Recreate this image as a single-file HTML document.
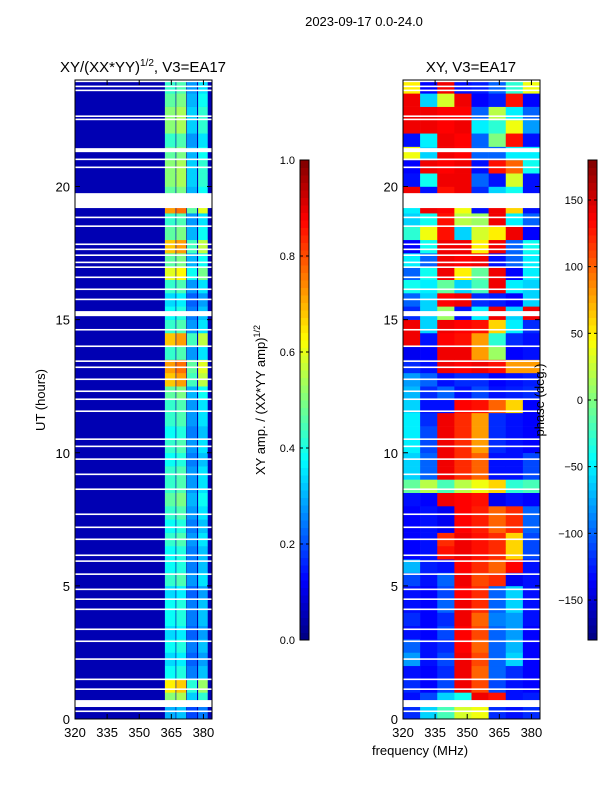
<!DOCTYPE html>
<html><head><meta charset="utf-8"><style>
body{margin:0;background:#fff;}
svg text{font-family:"Liberation Sans",sans-serif;fill:#000;}
</style></head><body>
<svg id="fig" width="600" height="800" xmlns="http://www.w3.org/2000/svg">
<text x="364" y="26" font-size="13" text-anchor="middle">2023-09-17 0.0-24.0</text>
<text x="143" y="72" font-size="15" text-anchor="middle">XY/(XX*YY)<tspan font-size="10" dy="-6">1/2</tspan><tspan dy="6">, V3=EA17</tspan></text>
<text x="471" y="72" font-size="15" text-anchor="middle">XY, V3=EA17</text>
<text transform="translate(45,400) rotate(-90)" font-size="13" text-anchor="middle">UT (hours)</text>
<text x="420" y="755" font-size="13" text-anchor="middle">frequency (MHz)</text>
<text transform="translate(265,400) rotate(-90)" font-size="13" text-anchor="middle">XY amp. / (XX*YY amp)<tspan font-size="9" dy="-5">1/2</tspan></text>
<g id="left"></g>
<g id="right"></g>
<g id="cb1"></g>
<g id="cb2"></g>
<text transform="translate(544,400) rotate(-90)" font-size="13" text-anchor="middle">phase (deg.)</text>
</svg>
<script>
const yTicks=[0,5,10,15,20];
const xTicks=[320,335,350,365,380];
const ampTicks=[0.0,0.2,0.4,0.6,0.8,1.0];
const phaseTicks=[-150,-100,-50,0,50,100,150];
const blankStart=[23.92,23.73,23.58,22.61,22.49,21.29,20.99,20.69,19.19,18.81,18.48,17.80,17.61,17.39,17.12,16.94,16.56,16.11,15.73,15.13,14.59,13.97,13.41,13.18,12.73,12.28,11.98,11.53,10.48,10.21,9.73,9.16,8.60,7.66,7.17,6.72,6.12,5.90,5.41,4.84,4.47,4.09,3.34,2.89,2.22,1.46,1.09,0.45,0.26];
const blankLen=[0.06,0.06,0.06,0.06,0.06,0.15,0.06,0.06,0.56,0.06,0.06,0.06,0.06,0.06,0.06,0.06,0.06,0.06,0.06,0.19,0.06,0.06,0.06,0.06,0.06,0.06,0.06,0.06,0.06,0.06,0.06,0.06,0.06,0.06,0.06,0.06,0.06,0.06,0.06,0.06,0.06,0.06,0.06,0.06,0.06,0.06,0.06,0.26,0.06];
const ampBandLo=[362,367.3,372.3,377.5];
const ampBandHi=[367,372,377,382];
const ampBandWeight=[0.85,0.9,0.55,0.7];
const ampBackground=0.05;
const ampRows=[0.35,0.6,0.75,0.45,0.4,0.45,0.4,0.45,0.45,0.4,0.5,0.45,0.45,0.5,0.45,0.5,0.55,0.5,0.5,0.45,0.5,0.45,0.5,0.5,0.55,0.8,0.85,0.5,0.8,0.5,0.45,0.4,0.5,0.7,0.55,0.8,0.55,0.5,0.85,0.55,0.6,0.6,0.55,0.5,0.6,0.6,0.55,0.5];
const phaseRows=[
[-120,-60,-20,30,40,-120,-130,-120],
[-130,-110,-60,-40,140,130,-130,-125],
[-120,-135,-110,140,110,-110,-130,-135],
[-130,-135,-120,140,100,-100,-120,-135],
[-80,-130,-110,140,110,-100,-60,-135],
[-100,-130,-120,135,100,-100,-70,-135],
[-130,-135,-110,135,110,-100,-80,-135],
[-120,-135,-120,140,100,-90,-80,-130],
[-130,-135,-100,140,120,-100,-60,-130],
[-130,-135,-110,135,120,-100,-60,-130],
[-110,-130,-100,140,110,120,-140,-130],
[-70,-125,-130,135,120,100,135,-130],
[-135,-130,130,140,130,120,60,-110],
[-135,-130,120,140,130,120,60,-110],
[-135,-130,-140,135,125,100,120,-100],
[-135,-130,-140,135,125,100,120,-100],
[-130,-135,140,135,130,-140,-130,-135],
[-10,20,-20,20,40,60,-30,-20],
[-60,-100,140,120,100,-130,-130,-110],
[-60,-100,140,120,100,-130,-130,-110],
[-50,-110,140,120,80,-120,-130,-135],
[-50,-110,140,120,80,-120,-130,-135],
[-50,-120,140,120,80,-120,-130,-135],
[-60,-130,-130,135,130,100,60,-135],
[-70,-120,-100,-130,-110,-130,-125,-120],
[-80,-100,-130,-120,-120,-135,-130,-125],
[-120,-130,140,135,140,130,80,80],
[-140,-135,140,140,80,10,-135,-130],
[140,-130,135,130,80,-30,-120,-130],
[140,-60,140,135,130,60,-50,-120],
[-120,-60,10,-130,-50,140,-60,140],
[-100,-60,135,140,-120,-125,-135,-60],
[-40,-50,-10,-60,-20,140,-50,-60],
[-100,-40,140,50,-10,140,-135,-50],
[-50,-100,140,135,140,-130,-100,-50],
[-135,-40,140,140,50,140,-100,-40],
[-30,40,130,-60,30,50,140,-135],
[-60,-40,130,20,10,140,-50,-100],
[-50,140,135,40,-130,140,60,-130],
[140,-130,130,140,-120,-60,-40,-130],
[-130,-40,140,140,-100,-130,30,-130],
[-135,140,135,140,-130,130,100,-40],
[40,-60,140,135,-100,-100,-50,-50],
[-130,-50,140,135,-100,0,130,-130],
[140,140,135,140,-50,-30,40,-80],
[140,140,135,135,-100,20,-50,-100],
[140,-60,30,140,-135,-125,130,-135],
[50,-135,140,-130,-125,-100,-30,40]];
const phaseColLo=[320,328,336,344,352,360,368,376];

const NS='http://www.w3.org/2000/svg';
const Y0=719,Y1=80;
function yS(h){return Y0-(h/24)*(Y0-Y1);}
function xSL(f){return 75+(f-320)/64*137;}
function xSR(f){return 403+(f-320)/64*137;}
function jet(v){v=Math.max(0,Math.min(1,v));const c=t=>Math.round(255*Math.max(0,Math.min(1,1.5-Math.abs(4*v-t))));return `rgb(${c(3)},${c(2)},${c(1)})`;}
function mk(tag,attrs,parent){const e=document.createElementNS(NS,tag);for(const k in attrs)e.setAttribute(k,attrs[k]);parent.appendChild(e);return e;}

const L=document.getElementById('left'),R=document.getElementById('right');
let bg=mk('rect',{x:75,y:80,width:137,height:639,fill:jet(ampBackground)},L);


ampRows.forEach((a,i)=>{
  ampBandLo.forEach((lo,j)=>{
    const r=mk('rect',{x:xSL(lo),y:yS(i*0.5+0.5),width:xSL(ampBandHi[j])-xSL(lo),height:yS(i*0.5)-yS(i*0.5+0.5)+0.3,fill:jet(a*ampBandWeight[j])},L);
    
    
  });
});
phaseRows.forEach((row,i)=>{
  row.forEach((p,j)=>{
    const r=mk('rect',{x:xSR(phaseColLo[j]),y:yS(i*0.5+0.5),width:xSR(phaseColLo[j]+8)-xSR(phaseColLo[j])+0.3,height:yS(i*0.5)-yS(i*0.5+0.5)+0.3,fill:jet((p+180)/360)},R);
    
    
  });
});
[[L,75],[R,403]].forEach(([g,x0])=>{
  blankStart.forEach((h,k)=>{
    const r=mk('rect',{x:x0,y:yS(h+blankLen[k]),width:137,height:Math.max(1.5,yS(h)-yS(h+blankLen[k])),fill:'#fff'},g);
    
    
  });
});
[[L,75,xSL],[R,403,xSR]].forEach(([g,x0,xs])=>{
  const f=mk('rect',{x:x0,y:80,width:137,height:639,fill:'none',stroke:'#000','stroke-width':1},g);
  
  
  yTicks.forEach(t=>{
    const y=yS(t);
    mk('line',{x1:x0,x2:x0+5,y1:y,y2:y,stroke:'#000'},g);
    mk('line',{x1:x0+137,x2:x0+132,y1:y,y2:y,stroke:'#000'},g);
    const tx=mk('text',{x:x0-5,y:y+5,'font-size':13,'text-anchor':'end'},g);
    tx.textContent=t;
    
    
  });
  xTicks.forEach(t=>{
    const x=xs(t);
    mk('line',{x1:x,x2:x,y1:719,y2:714,stroke:'#000'},g);
    mk('line',{x1:x,x2:x,y1:80,y2:85,stroke:'#000'},g);
    const tx=mk('text',{x:x,y:737,'font-size':13,'text-anchor':'middle'},g);
    tx.textContent=t;
    
    
  });
});
function colorbar(g,x,min,max,ticks,fmt){
  const n=64;
  for(let i=0;i<n;i++){
    const y0=640-(i+1)*480/n;
    mk('rect',{x:x,y:y0,width:9,height:480/n+0.5,fill:jet((i+0.5)/n)},g);
  }
  const fr=mk('rect',{x:x,y:160,width:9,height:480,fill:'none',stroke:'#000'},g);
  
  
  ticks.forEach(t=>{
    const y=640-(t-min)/(max-min)*480;
    mk('line',{x1:x,x2:x+3,y1:y,y2:y,stroke:'#000'},g);
    mk('line',{x1:x+9,x2:x+6,y1:y,y2:y,stroke:'#000'},g);
    const tx=mk('text',{x:x-5,y:y+4,'font-size':11,'text-anchor':'end'},g);
    tx.textContent=fmt(t);
    
    
  });
}
colorbar(document.getElementById('cb1'),300,0,1,ampTicks,t=>t.toFixed(1));
colorbar(document.getElementById('cb2'),588,-180,180,phaseTicks,t=>t<0?'\u2212'+(-t):String(t));
</script>
</body></html>
